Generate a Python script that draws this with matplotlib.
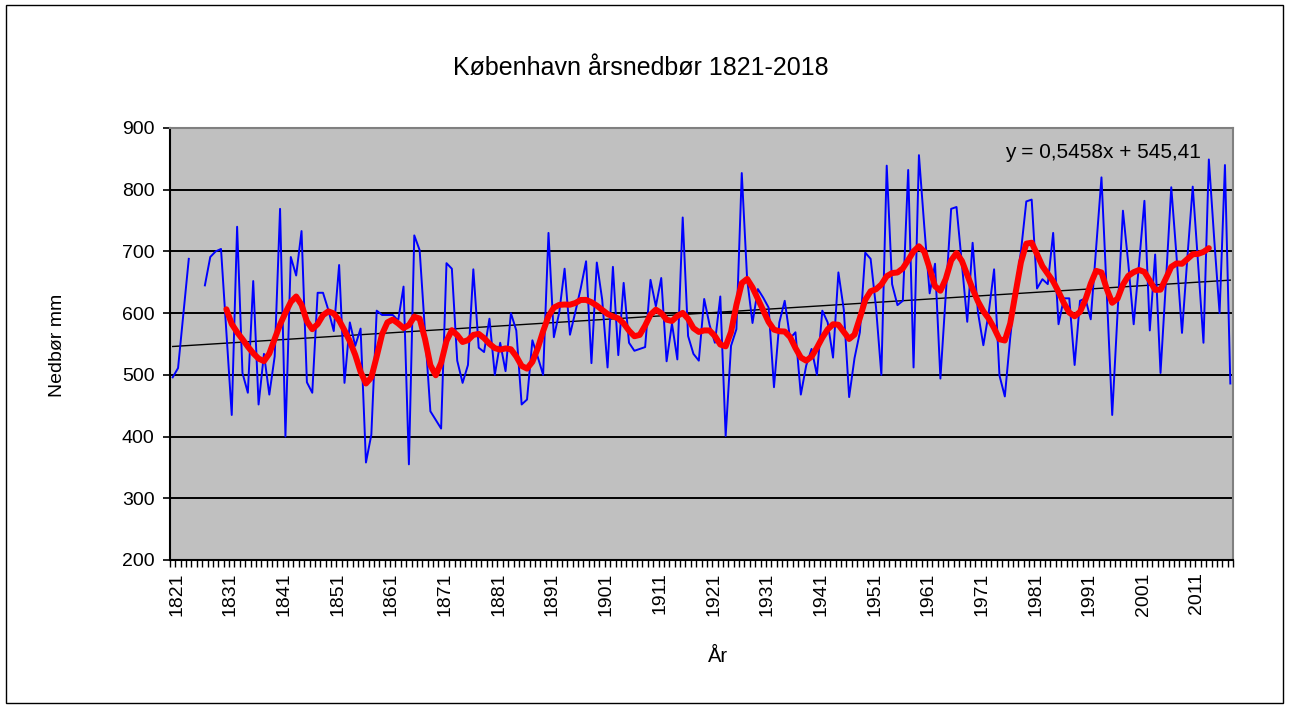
import numpy as np
import matplotlib
matplotlib.use("Agg")
import matplotlib.pyplot as plt
import matplotlib.transforms as mtransforms
from matplotlib.patches import Rectangle

plt.rcParams['font.family'] = ['Liberation Sans', 'DejaVu Sans']

first_year = 1821
last_year = 2018
years = list(range(first_year, last_year + 1))

precip = [
    496, 511, 600, 688, np.nan, np.nan, 645, 691, 700, 704,          # 1821-1830
    570, 435, 740, 503, 471, 652, 452, 534, 468, 530,                # 1831-1840
    769, 400, 691, 661, 733, 488, 471, 633, 633, 605,                # 1841-1850
    571, 678, 487, 585, 547, 575, 358, 403, 604, 597,                # 1851-1860
    597, 597, 588, 643, 355, 726, 702, 570, 441, 427,                # 1861-1870
    413, 681, 672, 523, 487, 516, 671, 544, 537, 591,                # 1871-1880
    500, 552, 506, 600, 572, 452, 460, 556, 529, 500,                # 1881-1890
    730, 561, 601, 672, 565, 602, 640, 684, 519, 682,                # 1891-1900
    622, 512, 675, 532, 649, 552, 539, 542, 545, 654,                # 1901-1910
    611, 657, 522, 583, 525, 755, 563, 534, 523, 623,                # 1911-1920
    581, 552, 627, 401, 547, 574, 827, 655, 584, 639,                # 1921-1930
    625, 609, 480, 585, 620, 559, 569, 468, 515, 542,                # 1931-1940
    500, 604, 585, 528, 666, 606, 464, 527, 569, 698,                # 1941-1950
    688, 610, 500, 839, 647, 613, 620, 832, 512, 856,                # 1951-1960
    740, 632, 680, 494, 630, 769, 772, 680, 586, 714,                # 1961-1970
    601, 548, 601, 671, 499, 465, 560, 640, 700, 781,                # 1971-1980
    784, 640, 655, 647, 730, 582, 624, 624, 516, 620,                # 1981-1990
    624, 590, 705, 820, 630, 435, 600, 766, 680, 582,                # 1991-2000
    680, 782, 572, 695, 503, 650, 804, 690, 568, 690,                # 2001-2010
    805, 680, 552, 849, 720, 600, 840, 486,                          # 2011-2018
]

# Linear trend shown in the chart (x = 1..198)
trend_slope = 0.5458
trend_intercept = 545.41
trend_label = "y = 0,5458x + 545,41"

# 9-year centred Gaussian-weighted smoothing
smooth_half_width = 4
smooth_sigma = 1.6

tick_years = list(range(1821, 2019, 10))
y_ticks = [200, 300, 400, 500, 600, 700, 800, 900]

title = "København årsnedbør 1821-2018"
ylabel = "Nedbør mm"
xlabel = "År"

# ------------------------------------------------------------------
W, H = 1290, 707
fig = plt.figure(figsize=(W / 100, H / 100), dpi=100)
fig.patches.append(Rectangle((6 / W, 4 / H), 1277 / W, 698 / H,
                             transform=fig.transFigure, fill=False,
                             edgecolor='black', lw=1.0))

left, right, top, bottom = 170, 1233, 128, 560
ax = fig.add_axes([left / W, 1 - bottom / H, (right - left) / W, (bottom - top) / H])
ax.set_facecolor('#C0C0C0')

vals = np.array(precip, dtype=float)
x = np.arange(len(years))

# gridlines
for yv in y_ticks[1:-1]:
    ax.axhline(yv, color='black', lw=1.4, zorder=1)

# blue series
ax.plot(x, vals, color='#0000FF', lw=1.4, zorder=3)

# smoothed series
k = np.arange(-smooth_half_width, smooth_half_width + 1)
w = np.exp(-k ** 2 / (2 * smooth_sigma ** 2))
w /= w.sum()
half = smooth_half_width
smooth = np.full(len(vals), np.nan)
for i in range(half, len(vals) - half):
    win = vals[i - half:i + half + 1]
    if not np.any(np.isnan(win)):
        smooth[i] = np.dot(win, w)
ax.plot(x, smooth, color='#FF0000', lw=4.3, solid_capstyle='round',
        solid_joinstyle='round', zorder=4)

# trend line
ax.plot(x, trend_slope * (x + 1) + trend_intercept, color='black', lw=1.0, zorder=2)

ax.set_xlim(-0.5, len(years) - 0.5)
ax.set_ylim(y_ticks[0], y_ticks[-1])
ax.set_yticks(y_ticks)
ax.set_yticklabels([str(v) for v in y_ticks], fontsize=14)
ax.tick_params(axis='y', direction='out', length=5, width=1.2, pad=6)

tick_pos = [years.index(yv) for yv in tick_years]
ax.set_xticks(tick_pos)
ax.set_xticklabels([str(v) for v in tick_years], rotation=90, fontsize=14)
ax.set_xticks(np.arange(-0.5, len(years), 1.0), minor=True)
ax.tick_params(axis='x', which='major', length=0, pad=9)
ax.tick_params(axis='x', which='minor', direction='out', length=5, width=1.0)
offset = mtransforms.ScaledTranslation(4 / 100, 0, fig.dpi_scale_trans)
for lab in ax.get_xticklabels():
    lab.set_transform(lab.get_transform() + offset)

for s in ['left', 'bottom']:
    ax.spines[s].set_color('black')
    ax.spines[s].set_linewidth(1.5)
for s in ['top', 'right']:
    ax.spines[s].set_color('#808080')
    ax.spines[s].set_linewidth(1.5)

fig.text(641 / W, 1 - 68 / H, title, ha='center', va='center', fontsize=18)
fig.text(1005 / W, 1 - 152 / H, trend_label, ha='left', va='center', fontsize=15)
fig.text(57 / W, 1 - 345 / H, ylabel, rotation=90, ha='center', va='center', fontsize=14)
fig.text(718 / W, 1 - 657 / H, xlabel, ha='center', va='center', fontsize=14.5)

fig.savefig('out.png', dpi=100)
